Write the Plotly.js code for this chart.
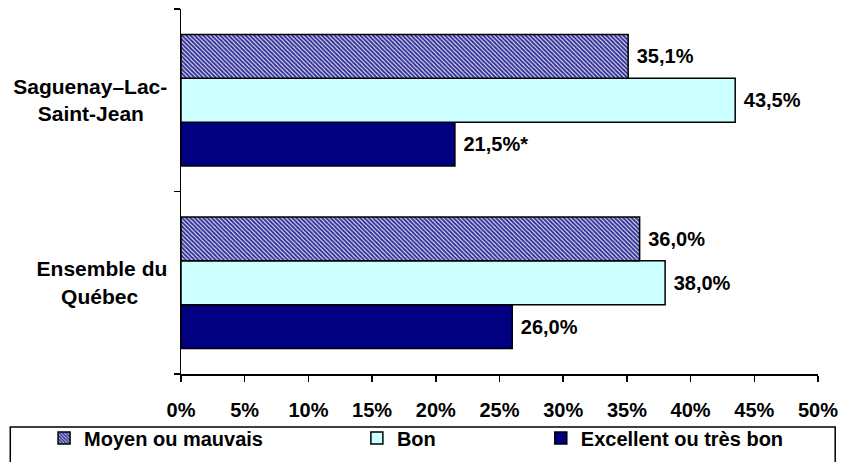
<!DOCTYPE html>
<html>
<head>
<meta charset="utf-8">
<script src="https://cdn.plot.ly/plotly-3.0.1.min.js"></script>
<style>html,body{margin:0;padding:0;background:#fff;}#chart{width:847px;height:462px;}</style>
</head>
<body>
<div id="chart"></div>
<script>
var categories = ['Ensemble du Québec', 'Saguenay–Lac-Saint-Jean'];
var seriesNames = ['Moyen ou mauvais', 'Bon', 'Excellent ou très bon'];
var moyenValues = [36.0, 35.1];
var bonValues = [38.0, 43.5];
var excellentValues = [26.0, 21.5];
var moyenLabels = ['36,0%', '35,1%'];
var bonLabels = ['38,0%', '43,5%'];
var excellentLabels = ['26,0%', '21,5%*'];
var xTickVals = [0,5,10,15,20,25,30,35,40,45,50];
var xTickText = xTickVals.map(function(v){return v + '%';});

var NB = '\u00A0';
function pad(n){ var s=''; for (var i=0;i<n;i++) s+=NB; return s; }
// centre the second line of each category label under the first (tick labels are right-aligned)
var yTickText = [
  'Ensemble du<br>Québec' + pad(5),
  'Saguenay–Lac-<br>Saint-Jean' + pad(4)
];
// trailing spacing between legend entries
var legendNames = [seriesNames[0] + pad(16), seriesNames[1] + pad(18), seriesNames[2]];

var FAM = 'Liberation Sans, Arial, sans-serif';
var font = {family: FAM, size: 20, color: '#000', weight: 'bold'};
var line = {color: '#000', width: 1.5};

function mk(name, vals, labels, marker) {
  return {
    type: 'bar', orientation: 'h', name: name,
    y: categories, x: vals,
    text: labels.map(function(s){return NB + s;}),
    texttemplate: '<b>%{text}</b>',
    textposition: 'outside', cliponaxis: false,
    textfont: {family: FAM, size: 20, color: '#000'},
    marker: marker, hoverinfo: 'skip'
  };
}

var traces = [
  mk(legendNames[2], excellentValues, excellentLabels, {color: '#000080', line: line}),
  mk(legendNames[1], bonValues, bonLabels, {color: '#CCFFFF', line: line}),
  mk(legendNames[0], moyenValues, moyenLabels, {color: '#ffffff', line: line,
    pattern: {shape: '\\', fgcolor: '#333399', bgcolor: '#ffffff', size: 3, solidity: 0.7}})
];

var layout = {
  width: 847, height: 462,
  margin: {l: 181, r: 29, t: 9, b: 88, autoexpand: false},
  paper_bgcolor: '#fff', plot_bgcolor: '#fff',
  font: font,
  barmode: 'group', bargap: 0.28, bargroupgap: 0,
  showlegend: true,
  legend: {
    orientation: 'h', traceorder: 'reversed',
    x: -0.215, xanchor: 'left', y: -0.175, yanchor: 'middle',
    font: font,
    bgcolor: 'rgba(0,0,0,0)', borderwidth: 0,
    itemwidth: 30
  },
  xaxis: {
    range: [0, 50], tickvals: xTickVals, ticktext: xTickText,
    showgrid: false, zeroline: false,
    showline: true, linecolor: '#000', linewidth: 1.5,
    ticks: 'outside', ticklen: 6, tickwidth: 1.5, tickcolor: '#000',
    tickfont: font,
    ticklabelstandoff: 11,
    fixedrange: true
  },
  yaxis: {
    type: 'category', categoryorder: 'array', categoryarray: categories,
    tickvals: categories, ticktext: yTickText,
    showgrid: false, zeroline: false,
    showline: true, linecolor: '#000', linewidth: 1.5,
    ticks: 'outside', ticklen: 6, tickwidth: 1.5, tickcolor: '#000',
    tickson: 'boundaries',
    tickfont: {family: FAM, size: 21, color: '#000', weight: 'bold'},
    ticklabelstandoff: 8,
    fixedrange: true
  },
  shapes: [{
    type: 'rect', xref: 'paper', yref: 'paper',
    x0: -0.268, x1: 1.027, y0: -0.145, y1: -0.27,
    line: {color: '#000', width: 1.5}, fillcolor: 'rgba(0,0,0,0)'
  }]
};

Plotly.newPlot('chart', traces, layout, {displayModeBar: false, staticPlot: true});
</script>
</body>
</html>
